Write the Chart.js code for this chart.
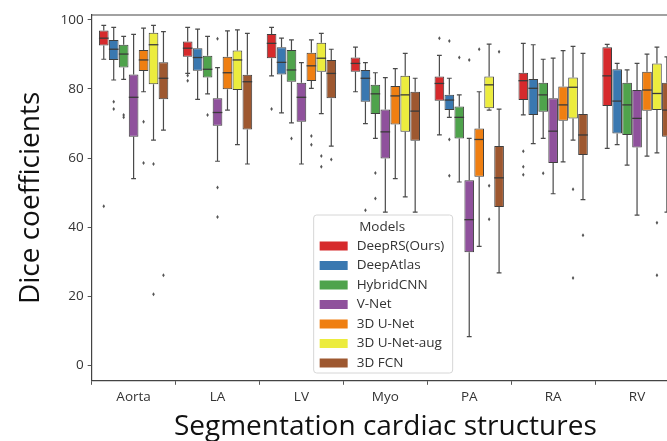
<!DOCTYPE html>
<html>
<head>
<meta charset="utf-8">
<title>Dice coefficients</title>
<script src="https://cdn.jsdelivr.net/npm/chart.js@4.4.0/dist/chart.umd.min.js"></script>
<style>
  html, body { margin:0; padding:0; background:#fff; overflow:hidden; }
  #wrap { width:690px; height:441px; position:relative; }
</style>
</head>
<body>
<div id="wrap"><canvas id="box-chart"></canvas></div>
<script>
// structures on the x axis
var structures = ['Aorta', 'LA', 'LV', 'Myo', 'PA', 'RA', 'RV'];
var models = ['DeepRS(Ours)', 'DeepAtlas', 'HybridCNN', 'V-Net', '3D U-Net', '3D U-Net-aug', '3D FCN'];
var colors = ['#d62a2c', '#3a78b0', '#4fa34c', '#8f519c', '#ef7f12', '#ecec3e', '#9e5830'];
var yTicks = [0, 20, 40, 60, 80, 100];

// per structure: [whisker low, q1, median, q3, whisker high]
var deepRS = [[88.6,92.6,94.7,96.9,98.4],[84.5,89.3,91.8,93.7,97.8],[83.8,88.9,93.2,95.9,97.8],[79.2,85.0,87.4,89.1,92.1],[66.7,76.6,81.6,83.6,89.7],[72.5,76.8,82.4,84.7,93.2],[62.8,75.1,83.8,92.1,92.9]];
var deepAtlas = [[82.6,88.4,91.5,94.2,97.8],[77.0,85.3,89.1,91.8,97.3],[73.1,84.2,87.7,92.1,94.7],[70.0,76.3,83.1,85.5,87.6],[71.8,73.9,76.8,78.3,83.1],[64.2,72.5,80.2,82.9,92.8],[63.9,67.1,76.5,85.7,87.4]];
var hybridCNN = [[82.8,86.2,90.1,92.8,95.2],[78.6,83.3,85.7,89.6,95.2],[70.2,82.1,85.5,91.3,94.2],[65.7,72.8,78.6,81.2,84.7],[53.1,65.7,71.8,74.9,78.3],[65.7,73.4,78.3,81.8,88.6],[58.0,66.7,75.4,81.8,85.5]];
var vNet = [[54.1,66.2,77.6,84.2,95.8],[59.1,69.4,73.2,77.3,86.2],[58.3,70.5,77.6,81.8,87.6],[44.4,59.9,67.6,74.1,83.3],[8.4,32.8,42.2,53.6,65.7],[49.7,58.6,67.8,77.3,88.9],[43.5,63.1,71.5,79.7,87.4]];
var uNet3d = [[79.2,85.2,88.4,91.3,97.6],[73.9,79.9,84.7,89.3,96.8],[80.2,82.3,86.7,90.5,94.2],[54.1,69.7,78.0,80.9,85.9],[34.5,54.6,65.4,68.6,79.2],[58.9,70.8,75.4,80.7,91.1],[60.6,73.7,79.7,85.0,90.1]];
var uNetAug = [[65.2,81.4,92.8,96.3,98.4],[63.9,79.7,88.4,91.1,97.1],[72.9,85.0,88.9,93.4,96.1],[48.8,67.6,78.3,83.8,90.3],[73.9,74.4,81.2,83.6,93.0],[65.2,71.5,80.5,83.3,92.3],[61.5,73.9,78.7,87.4,92.1]];
var fcn3d = [[68.1,77.0,83.1,87.7,96.6],[58.3,68.3,82.1,84.1,96.1],[63.5,77.3,84.5,88.4,91.5],[44.4,65.0,73.6,79.2,83.1],[26.8,45.9,54.3,63.5,74.2],[48.0,60.9,66.7,72.8,90.3],[44.4,66.2,73.9,81.8,89.3]];

// outliers per structure
var deepRSOut = [[46.1],[83.9,82.4],[74.2],[],[94.7],[62.0,57.5,55.2],[]];
var deepAtlasOut = [[76.3,74.2],[],[],[44.9],[93.9,65.4,54.9],[],[]];
var hybridCNNOut = [[72.5,71.8],[72.5],[65.7],[55.7,48.3],[89.1],[55.6],[]];
var vNetOut = [[],[94.5,51.5,43.0],[],[],[88.4],[],[]];
var uNet3dOut = [[70.5,58.6],[],[66.4,63.9],[],[91.5],[],[]];
var uNetAugOut = [[58.3,20.6],[],[60.6,57.5],[],[52.0,42.3],[51.0,25.3],[41.3,26.1]];
var fcn3dOut = [[26.1],[],[59.6],[],[90.8],[37.7],[]];

var allStats = [deepRS, deepAtlas, hybridCNN, vNet, uNet3d, uNetAug, fcn3d];
var allOut = [deepRSOut, deepAtlasOut, hybridCNNOut, vNetOut, uNet3dOut, uNetAugOut, fcn3dOut];

Chart.defaults.font.family = "'Open Sans', sans-serif";
Chart.defaults.color = '#333';

var datasets = [];
for (var m = 0; m < models.length; m++) {
  datasets.push({
    label: models[m],
    data: allStats[m].map(function(s){ return [s[1], s[3]]; }),
    stats: allStats[m],
    outliers: allOut[m],
    backgroundColor: colors[m],
    borderColor: '#3f3f3f',
    borderWidth: 1,
    borderSkipped: false,
    categoryPercentage: 0.83,
    barPercentage: 0.97
  });
}

// whiskers, medians, outliers, legend and top spine
var boxPlugin = {
  id: 'boxes',
  beforeDatasetsDraw: function(chart) {
    var ctx = chart.ctx, y = chart.scales.y;
    ctx.save();
    ctx.strokeStyle = '#4a4a4a';
    ctx.lineWidth = 1.2;
    chart.data.datasets.forEach(function(ds, d) {
      chart.getDatasetMeta(d).data.forEach(function(bar, i) {
        var s = ds.stats[i], x = bar.x, cap = bar.width / 4;
        ctx.beginPath();
        ctx.moveTo(x, y.getPixelForValue(s[3])); ctx.lineTo(x, y.getPixelForValue(s[4]));
        ctx.moveTo(x, y.getPixelForValue(s[1])); ctx.lineTo(x, y.getPixelForValue(s[0]));
        ctx.moveTo(x - cap, y.getPixelForValue(s[4])); ctx.lineTo(x + cap, y.getPixelForValue(s[4]));
        ctx.moveTo(x - cap, y.getPixelForValue(s[0])); ctx.lineTo(x + cap, y.getPixelForValue(s[0]));
        ctx.stroke();
      });
    });
    ctx.restore();
  },
  afterDatasetsDraw: function(chart) {
    var ctx = chart.ctx, y = chart.scales.y;
    ctx.save();
    chart.data.datasets.forEach(function(ds, d) {
      chart.getDatasetMeta(d).data.forEach(function(bar, i) {
        var s = ds.stats[i], x = bar.x, hw = bar.width / 2;
        ctx.strokeStyle = '#3a3a3a';
        ctx.lineWidth = 1.3;
        ctx.beginPath();
        ctx.moveTo(x - hw, y.getPixelForValue(s[2]));
        ctx.lineTo(x + hw, y.getPixelForValue(s[2]));
        ctx.stroke();
        ctx.fillStyle = '#555';
        ds.outliers[i].forEach(function(v) {
          var py = y.getPixelForValue(v);
          ctx.beginPath();
          ctx.moveTo(x, py - 2); ctx.lineTo(x + 1.3, py); ctx.lineTo(x, py + 2); ctx.lineTo(x - 1.3, py);
          ctx.closePath();
          ctx.fill();
        });
      });
    });
    ctx.restore();
  },
  afterDraw: function(chart) {
    var ctx = chart.ctx, a = chart.chartArea;
    ctx.save();
    ctx.strokeStyle = '#444';
    ctx.lineWidth = 1.2;
    ctx.beginPath();
    ctx.moveTo(a.left, a.top); ctx.lineTo(a.right, a.top);
    ctx.stroke();

    // legend box
    var lx = a.left + 222, ly = a.top + 200, lw = 139, lh = 158;
    ctx.fillStyle = 'rgba(255,255,255,0.85)';
    ctx.strokeStyle = '#d6d6d6';
    ctx.lineWidth = 1;
    ctx.beginPath();
    ctx.roundRect(lx, ly, lw, lh, 3);
    ctx.fill();
    ctx.stroke();
    ctx.font = "13.5px 'Open Sans'";
    ctx.fillStyle = '#333';
    ctx.textAlign = 'center';
    ctx.textBaseline = 'middle';
    ctx.fillText('Models', lx + lw / 2 - 1, ly + 12);
    ctx.textAlign = 'left';
    for (var m = 0; m < models.length; m++) {
      var ry = ly + 31 + m * 19.5;
      ctx.fillStyle = colors[m];
      ctx.fillRect(lx + 6, ry - 4.5, 28, 9);
      ctx.fillStyle = '#333';
      ctx.fillText(models[m], lx + 43, ry);
    }
    ctx.restore();
  }
};

new Chart(document.getElementById('box-chart'), {
  type: 'bar',
  data: { labels: structures, datasets: datasets },
  options: {
    responsive: true,
    maintainAspectRatio: false,
    animation: false,
    layout: { padding: { top: 15, left: 13.5, right: 11, bottom: 0 } },
    plugins: { legend: { display: false }, tooltip: { enabled: false } },
    scales: {
      x: {
        grid: { display: true, drawOnChartArea: false, tickLength: 4, color: '#555' },
        border: { color: '#444', width: 1.2 },
        ticks: { font: { size: 13.5 }, color: '#333', padding: 4 },
        title: { display: true, text: 'Segmentation cardiac structures', color: '#111',
                 font: { size: 28, lineHeight: 1.0 }, padding: { top: 4, bottom: 0 } }
      },
      y: {
        min: -4.4,
        max: 101.4,
        afterBuildTicks: function(axis) {
          axis.ticks = yTicks.map(function(v){ return { value: v }; });
        },
        grid: { display: true, drawOnChartArea: false, tickLength: 4, color: '#555' },
        border: { color: '#444', width: 1.2 },
        ticks: { font: { size: 13.5 }, color: '#333', padding: 4 },
        title: { display: true, text: 'Dice coefficients', color: '#111',
                 font: { size: 28, lineHeight: 1.0 }, padding: { top: 4, bottom: 11 } }
      }
    }
  },
  plugins: [boxPlugin]
});
</script>
</body>
</html>
